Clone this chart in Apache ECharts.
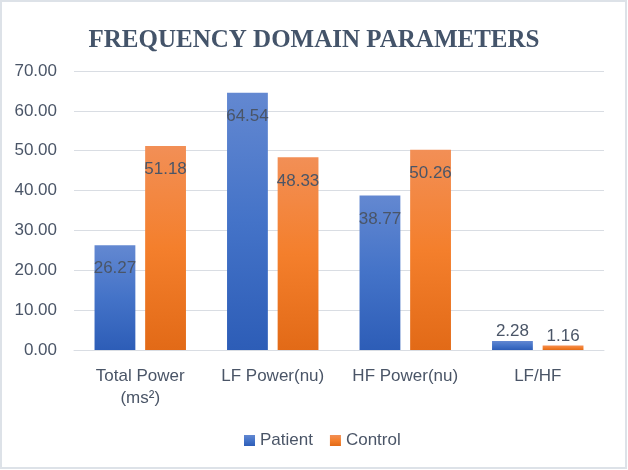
<!DOCTYPE html>
<html>
<head>
<meta charset="utf-8">
<script src="https://cdn.jsdelivr.net/npm/echarts@6/dist/echarts.min.js"></script>
<style>
html,body{margin:0;padding:0;background:#fff;}
#chart{width:628px;height:470px;}
</style>
</head>
<body>
<div id="chart"></div>
<script>
var titleText = 'FREQUENCY DOMAIN PARAMETERS';
var categories = ['Total Power\n(ms²)', 'LF Power(nu)', 'HF Power(nu)', 'LF/HF'];
var patientValues = [26.27, 64.54, 38.77, 2.28];
var controlValues = [51.18, 48.33, 50.26, 1.16];
var yTicks = {min: 0, max: 70, interval: 10};

var textColor = '#4a5567';
var font = 'Liberation Sans';

function grad(top, mid, bottom) {
  return new echarts.graphic.LinearGradient(0, 0, 0, 1, [
    {offset: 0, color: top}, {offset: 0.5, color: mid}, {offset: 1, color: bottom}
  ]);
}
var blueGrad = grad('#6388d1', '#4473c8', '#2d5db7');
var orangeGrad = grad('#f28f56', '#f47f2c', '#e26a17');

function buildData(vals) {
  return vals.map(function (v) {
    if (v < 5) {
      return {value: v, label: {position: 'top', distance: 1}};
    }
    return v;
  });
}

var labelCfg = {
  show: true,
  position: 'insideTop',
  distance: 15,
  color: textColor,
  fontFamily: font,
  fontSize: 17,
  formatter: function (p) { return p.value.toFixed(2); }
};

var chart = echarts.init(document.getElementById('chart'), null, {renderer: 'canvas'});
chart.setOption({
  backgroundColor: '#ffffff',
  animation: false,
  title: {
    text: titleText,
    left: 'center',
    top: 23,
    textStyle: {
      fontFamily: 'Liberation Serif',
      fontWeight: 'bold',
      fontSize: 25,
      color: '#44546a'
    }
  },
  graphic: [{
    type: 'rect',
    shape: {x: 1, y: 1, width: 625, height: 467},
    style: {fill: 'none', stroke: '#dde2e8', lineWidth: 2},
    silent: true
  }],
  legend: {
    left: 239,
    top: 427,
    itemWidth: 11,
    itemHeight: 11,
    itemGap: 17,
    icon: 'rect',
    textStyle: {fontFamily: font, fontSize: 17, color: textColor},
    data: ['Patient', 'Control']
  },
  grid: {left: 74, right: 24, top: 71, bottom: 120, containLabel: false},
  xAxis: {
    type: 'category',
    data: categories,
    axisTick: {show: false},
    axisLine: {lineStyle: {color: '#d9dde3', width: 1}},
    axisLabel: {
      color: textColor,
      fontFamily: font,
      fontSize: 17,
      lineHeight: 22,
      margin: 15,
      interval: 0
    }
  },
  yAxis: {
    type: 'value',
    min: yTicks.min,
    max: yTicks.max,
    interval: yTicks.interval,
    axisLine: {show: false},
    axisTick: {show: false},
    splitLine: {lineStyle: {color: '#d9dde3', width: 1}},
    axisLabel: {
      color: textColor,
      fontFamily: font,
      fontSize: 17,
      margin: 17,
      formatter: function (v) { return v.toFixed(2); }
    }
  },
  series: [
    {
      name: 'Patient',
      type: 'bar',
      data: buildData(patientValues),
      barGap: '24%',
      barCategoryGap: '31%',
      itemStyle: {color: blueGrad},
      label: labelCfg
    },
    {
      name: 'Control',
      type: 'bar',
      data: buildData(controlValues),
      barGap: '24%',
      barCategoryGap: '31%',
      itemStyle: {color: orangeGrad},
      label: labelCfg
    }
  ]
});
</script>
</body>
</html>
